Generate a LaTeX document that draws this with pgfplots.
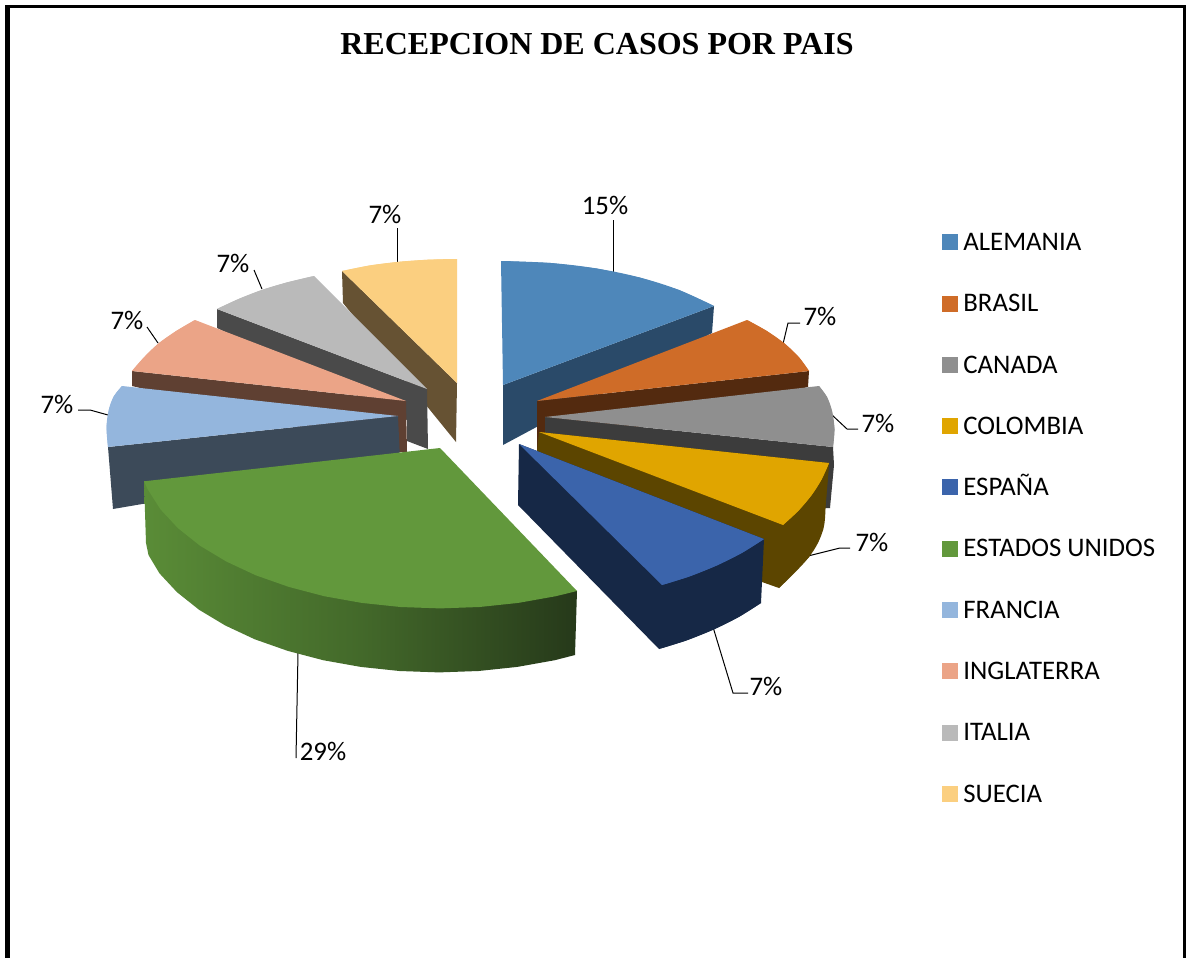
\documentclass[border=0pt]{standalone}
\usepackage{pgfplots}
\pgfplotsset{compat=1.18}
\usepackage{fontspec}
\setmainfont{Carlito}
\newfontfamily\titlefont{Liberation Serif}
\definecolor{cAle}{HTML}{4E87BA}\definecolor{cAleS}{HTML}{2A4A69}
\definecolor{cBra}{HTML}{CF6C28}\definecolor{cBraS}{HTML}{532A0F}
\definecolor{cCan}{HTML}{8F8F8F}\definecolor{cCanS}{HTML}{3C3C3C}
\definecolor{cCol}{HTML}{E0A500}\definecolor{cColS}{HTML}{5C4500}
\definecolor{cEsp}{HTML}{3B64AB}\definecolor{cEspS}{HTML}{162846}
\definecolor{cEst}{HTML}{62983C}
\definecolor{cEstL}{HTML}{5A8C37}\definecolor{cEstM}{HTML}{43692A}\definecolor{cEstR}{HTML}{26391A}
\definecolor{cFra}{HTML}{94B6DD}\definecolor{cFraS}{HTML}{3C4A59}
\definecolor{cIng}{HTML}{EBA487}\definecolor{cIngS}{HTML}{5F4032}
\definecolor{cIta}{HTML}{BABABA}\definecolor{cItaS}{HTML}{4A4A4A}
\definecolor{cSue}{HTML}{FBCF80}\definecolor{cSueS}{HTML}{665233}
\newcommand\pg[2]{\addplot[fill=#1,draw=none,forget plot] coordinates {#2} -- cycle;}
% a slice's face: the polygon from its apex, and the rounded rim over it
\newcommand\rim[2]{\addplot[fill=#1,draw=none,forget plot,smooth,tension=0.6] coordinates {#2} -- cycle;}
\newcommand\face[3]{\pg{#1}{#2#3}\rim{#1}{#3}}
\newcommand\ld[1]{\addplot[black,line width=1pt,forget plot] coordinates {#1};}
\newcommand\lab[2]{\node[font=\fontsize{26.8}{30}\selectfont,inner sep=0pt,yshift=-1pt] at (axis cs:#1) {#2};}
\pgfplotsset{sq/.style={legend image code/.code={\fill[#1] (0cm,-7.5pt) rectangle (15pt,7.5pt);\path (21pt,0pt);}}}
\begin{document}
\begin{tikzpicture}
\begin{axis}[hide axis,scale only axis,width=1186pt,height=958pt,
  xmin=0,xmax=1186,ymin=0,ymax=958,y dir=reverse,clip=false,no markers,
  legend style={draw=none,fill=none,at={(axis cs:942,233.5)},anchor=north west,inner sep=0pt,outer sep=0pt,
    font=\fontsize{26.8}{30}\selectfont,row sep=44.28pt,
    nodes={inner sep=0pt,text height=17pt,text depth=0pt,anchor=west}},
  legend cell align=left,
]
\pg{white}{(0,0)(1186,0)(1186,958)(0,958)}
% frame (open at the bottom)
\pg{black}{(5,5)(1186,5)(1186,8)(5,8)}
\pg{black}{(5,5)(10,5)(10,958)(5,958)}
\pg{black}{(1183,5)(1186,5)(1186,958)(1183,958)}
% leaders behind the slices
\ld{(613,220)(613,273)}
\ld{(783,344)(788,323)(800,323)}
\ld{(832,415)(847,429)(858,429)}
\ld{(808,556)(840,548)(850,548)}
\ld{(713,627)(733,693)(748,693)}
\ld{(298,653)(296,758)}
\ld{(108,415)(90,410)(78,410)}
\ld{(158,343)(147,327)}
\ld{(262,289)(254,270)}
\ld{(397,263)(397,228)}
% Suecia
\pg{cSueS}{(342,271)(457,383)(456,442)(343,303)}
\face{cSue}{(457,383)}{(342,271)(370.1,265.4)(400,261.7)(428.4,259.7)(457,259)}
% Italia
\pg{cItaS}{(217,309)(427,389)(428,449)(407,441)(407,420)(217,328)}
\face{cIta}{(427,389)}{(217,309)(238.8,298.9)(262,289.9)(287.1,282.4)(314,276)}
% Inglaterra
\pg{cIngS}{(132,371)(406,401)(407,452)(398,452)(132,386)}
\face{cIng}{(406,401)}{(132,371)(144,357.3)(158.2,343.7)(176.2,331)(195,320)}
% Francia
\pg{cFraS}{(398,416)(400,460)(113,509)(108,447)}
\face{cFra}{(398,416)}{(108,447)(106.5,427)(109,409)(114,396)(122,386)}
% Estados Unidos
\addplot[left color=cEstL,right color=cEstR,middle color=cEstM,draw=none,forget plot] coordinates {
 (144,481)(146,543)(148.5,555)(159.5,573.4)(177,592.2)(199,609.7)(225.1,625.4)(254.8,639.3)(287.8,650.9)(323.2,660.2)(360.7,666.9)(399.5,671)(439,672.4)(478.5,671)(517.3,666.9)(554.8,660.2)(575,655)(577,591)} -- cycle;
\pg{cEst}{(440,448)(144,481.3)(147.8,489.5)(160.5,509.4)(178,528.2)(200,545.7)(226.1,561.4)(255.8,575.3)(288.8,586.9)(324.2,596.2)(361.7,602.9)(400.5,607)(440,608.4)(479.5,607)(518.3,602.9)(555.8,596.2)(577,591)}
% Alemania
\pg{cAleS}{(503,385)(714,306)(712,333)(503,445)}
\face{cAle}{(503,385)}{(501,261)(550.6,263)(596.7,268.5)(640,277.6)(679,290)(714,306)}
% Brasil
\pg{cBraS}{(537,401)(809,371)(808,387)(537,452)}
\face{cBra}{(537,401)}{(747,320)(766.8,331)(784.8,343.7)(799,357.3)(809,371)}
% Canada
\pg{cCanS}{(545,417)(833,447)(834,465)(830,508)(815,508)(545,435)}
\face{cCan}{(545,417)}{(819,386)(827,397)(832,411)(834.5,429)(833,447)}
% Colombia
\pg{cColS}{(539,432)(829,463)(826,500)(823,530)(809,557)(779,588)(762,582)(537,452)}
\rim{cColS}{(829,463)(826,500)(823,530)(809,557)(779,588)}
\face{cCol}{(539,432)}{(829,463)(821.6,479.4)(811.6,495.1)(798.6,510.5)(783,525)}
% Espana
\pg{cEspS}{(519,444)(518,505)(659,649)(686.5,640.4)(713.9,629.4)(738.9,616.9)(761,603)(764,539)}
\rim{cEspS}{(659,649)(686.5,640.4)(713.9,629.4)(738.9,616.9)(761,603)}
\face{cEsp}{(519,444)}{(764,539)(741.9,552.9)(716.9,565.4)(689.5,576.4)(662,585)}
% labels
\lab{605,204}{15\%}
\lab{820,315}{7\%}
\lab{878,422}{7\%}
\lab{872,541}{7\%}
\lab{766,685}{7\%}
\lab{323,750}{29\%}
\lab{57,403}{7\%}
\lab{127,319}{7\%}
\lab{233,262}{7\%}
\lab{385,213}{7\%}
\node[font=\titlefont\bfseries\fontsize{32}{36}\selectfont,inner sep=0pt] at (axis cs:597,44) {RECEPCION DE CASOS POR PAIS};
% legend
\addlegendimage{sq=cAle}\addlegendentry{ALEMANIA}
\addlegendimage{sq=cBra}\addlegendentry{BRASIL}
\addlegendimage{sq=cCan}\addlegendentry{CANADA}
\addlegendimage{sq=cCol}\addlegendentry{COLOMBIA}
\addlegendimage{sq=cEsp}\addlegendentry{ESPAÑA}
\addlegendimage{sq=cEst}\addlegendentry{ESTADOS UNIDOS}
\addlegendimage{sq=cFra}\addlegendentry{FRANCIA}
\addlegendimage{sq=cIng}\addlegendentry{INGLATERRA}
\addlegendimage{sq=cIta}\addlegendentry{ITALIA}
\addlegendimage{sq=cSue}\addlegendentry{SUECIA}
\end{axis}
\end{tikzpicture}
\end{document}
